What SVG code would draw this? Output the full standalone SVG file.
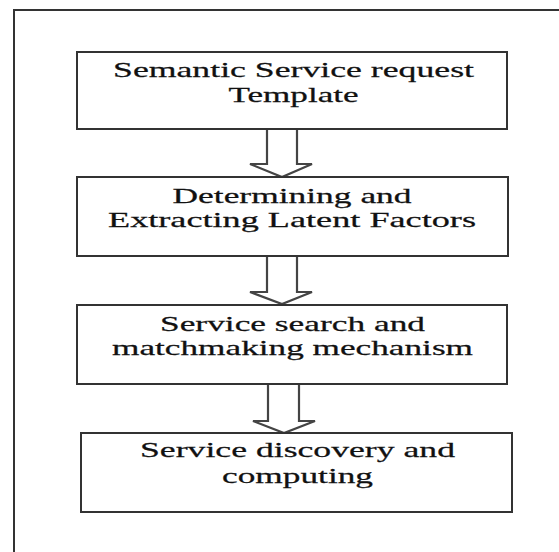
<svg xmlns="http://www.w3.org/2000/svg" width="559" height="552" viewBox="0 0 559 552">
<style>
.box{fill:#fff;stroke:#333;stroke-width:2}
.arr{fill:#fff;stroke:#444;stroke-width:2.2;stroke-linejoin:miter}
.t{font-family:"Liberation Serif","Times New Roman",serif;font-size:22px;fill:#111;stroke:#111;stroke-width:0.25;text-anchor:middle}
</style>
<rect width="559" height="552" fill="#fff"/>
<path d="M14,552 V10 H559" fill="none" stroke="#333" stroke-width="2"/>
<g id="connectors">
<path class="arr" d="M267,129 V164 H250 L282,177 L312,164 H297 V129"/>
<path class="arr" d="M267,256 V292 H250 L282,304 L312,292 H297 V256"/>
<path class="arr" d="M268,384 V421 H253 L284,433 L315,421 H299 V384"/>
</g>
<g id="n1">
<rect class="box" x="77" y="52" width="430" height="77"/>
<g transform="translate(293.5,0) scale(1.6,1)">
<text class="t" x="0" y="77" textLength="225.6" lengthAdjust="spacingAndGlyphs">Semantic Service request</text>
<text class="t" x="0" y="102" textLength="81.3" lengthAdjust="spacingAndGlyphs">Template</text>
</g>
</g>
<g id="n2">
<rect class="box" x="77" y="177" width="431" height="79"/>
<g transform="translate(292,0) scale(1.6,1)">
<text class="t" x="0" y="203" textLength="149.4" lengthAdjust="spacingAndGlyphs">Determining and</text>
<text class="t" x="0" y="227" textLength="230" lengthAdjust="spacingAndGlyphs">Extracting Latent Factors</text>
</g>
</g>
<g id="n3">
<rect class="box" x="77" y="305" width="430" height="79"/>
<g transform="translate(292.5,0) scale(1.6,1)">
<text class="t" x="0" y="331" textLength="165.6" lengthAdjust="spacingAndGlyphs">Service search and</text>
<text class="t" x="0" y="355" textLength="225.6" lengthAdjust="spacingAndGlyphs">matchmaking mechanism</text>
</g>
</g>
<g id="n4">
<rect class="box" x="81" y="433" width="431" height="79"/>
<g transform="translate(297.5,0) scale(1.6,1)">
<text class="t" x="0" y="457" textLength="196.9" lengthAdjust="spacingAndGlyphs">Service discovery and</text>
<text class="t" x="0" y="483" textLength="94.4" lengthAdjust="spacingAndGlyphs">computing</text>
</g>
</g>
</svg>
